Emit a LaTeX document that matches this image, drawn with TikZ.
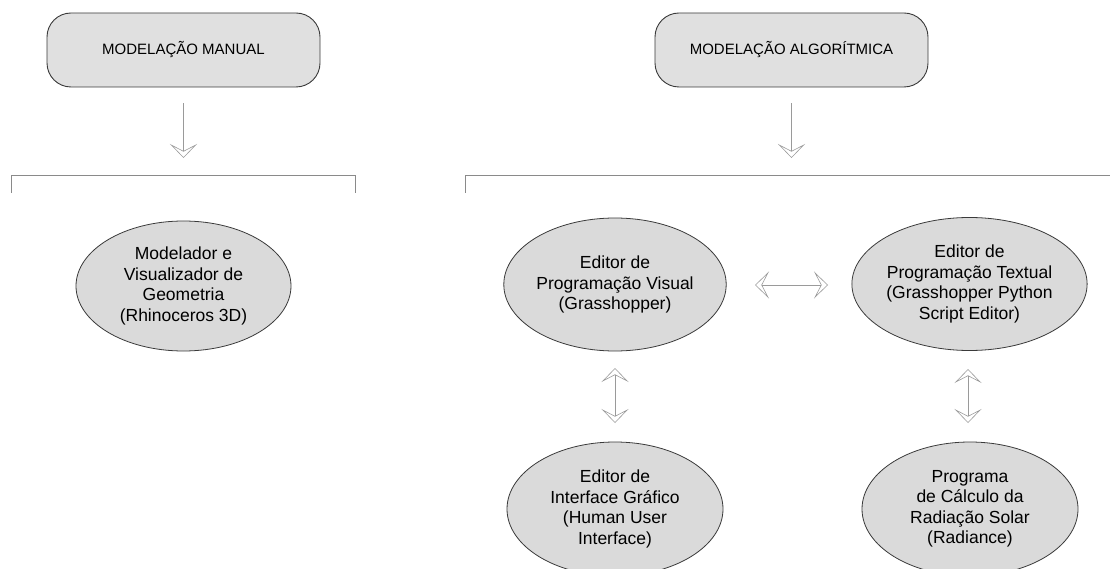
\documentclass[tikz,border=0pt]{standalone}
\usepackage{fontspec}
\setmainfont{Liberation Sans}
\usetikzlibrary{shapes.geometric,arrows.meta,calc}
\definecolor{boxfill}{HTML}{E0E0E0}
\definecolor{ellfill}{HTML}{DADADA}
\definecolor{edge}{HTML}{3A3A3A}
\definecolor{arrcol}{HTML}{9A9A9A}
\definecolor{brkcol}{HTML}{8A8A8A}
\tikzset{
  mbox/.style={draw=edge, fill=boxfill, rounded corners=24pt, line width=0.9pt,
    minimum width=273pt, minimum height=74pt, inner sep=0pt,
    font=\fontsize{15}{18}\selectfont},
  ell/.style={ellipse, draw=edge, fill=ellfill, line width=0.8pt,
    minimum width=216pt, minimum height=133pt, inner sep=0pt, align=center,
    font=\fontsize{17.5}{20.5}\selectfont},
  darr/.style={draw=arrcol, line width=0.6pt,
    {Stealth[open, length=14pt, width=27pt, inset=7pt]}-{Stealth[open, length=14pt, width=27pt, inset=7pt]}},
  sarr/.style={draw=arrcol, line width=0.6pt,
    -{Stealth[open, length=14pt, width=27pt, inset=7pt]}},
  brk/.style={draw=brkcol, line width=1pt},
}
\begin{document}
\begin{tikzpicture}[x=1pt,y=1pt]
\useasboundingbox (0,0) rectangle (1110,-569);
\clip (0,0) rectangle (1110,-569);
% top boxes
\node[mbox] (m1) at (183.5,-50) {MODELAÇÃO MANUAL};
\node[mbox] (m2) at (791.5,-50) {MODELAÇÃO ALGORÍTMICA};
% arrows down to the brackets
\coordinate (b1) at (183.5,-158);
\coordinate (b2) at (791.5,-158);
\draw[sarr] ($(m1.south)+(0,-16)$) -- (b1);
\draw[sarr] ($(m2.south)+(0,-16)$) -- (b2);
% brackets
\draw[brk] (11,-193) -- (11,-176) -- (355,-176) -- (355,-193);
\draw[brk] (465,-193) -- (465,-176) -- (1112,-176);
% ellipses
\node[ell, minimum width=215pt, minimum height=130pt] (geo) at (183.5,-286) {Modelador e\\Visualizador de\\Geometria\\(Rhinoceros 3D)};
\node[ell] (vis) at (615,-284.5) {Editor de\\Programação Visual\\(Grasshopper)};
\node[ell, minimum width=215pt] (txt) at (969.5,-284) {Editor de\\Programação Textual\\(Grasshopper Python\\Script Editor)};
\node[ell, minimum height=134pt] (gui) at (615,-509) {Editor de\\Interface Gráfico\\(Human User\\Interface)};
\node[ell, minimum height=134pt] (rad) at (970,-509) {Programa\\de Cálculo da\\Radiação Solar\\(Radiance)};
% double arrows
\coordinate (h1) at (755,-285);
\coordinate (h2) at (828,-285);
\draw[darr] (h1) -- (h2);
\coordinate (v1a) at (615,-368);
\coordinate (v1b) at (615,-423);
\draw[darr] (v1a) -- (v1b);
\coordinate (v2a) at (968,-369);
\coordinate (v2b) at (968,-423);
\draw[darr] (v2a) -- (v2b);
\end{tikzpicture}
\end{document}
